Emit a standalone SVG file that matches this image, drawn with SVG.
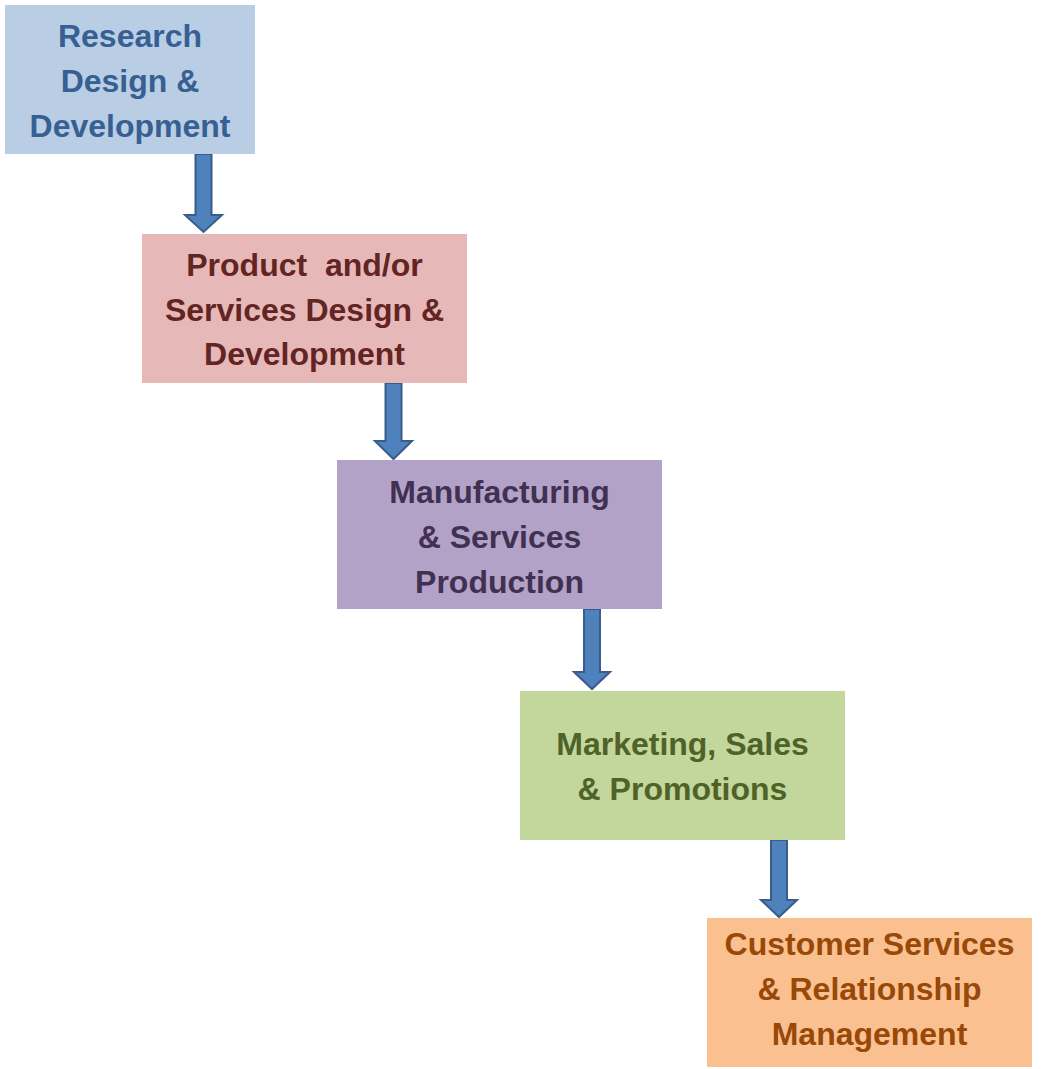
<svg xmlns="http://www.w3.org/2000/svg" width="1043" height="1069" viewBox="0 0 1043 1069">
<style>
text{font-family:"Liberation Sans",Arial,sans-serif;font-weight:bold;font-size:32px;text-anchor:middle;white-space:pre}
.arrow{fill:#4f81bd;stroke:#385d8a;stroke-width:2;stroke-linejoin:miter}
</style>
<rect width="1043" height="1069" fill="#ffffff"/>
<g id="connectors">
<path class="arrow" d="M195.5,154 H211.5 V215 H222 L203.5,232 L185,215 H195.5 Z"/>
<path class="arrow" d="M385.5,383 H401.5 V441 H412 L393.5,459 L375,441 H385.5 Z"/>
<path class="arrow" d="M584,609 H600 V672 H610 L592,689 L574,672 H584 Z"/>
<path class="arrow" d="M771,840 H787 V900 H797 L779,917 L761,900 H771 Z"/>
</g>
<g id="node-research">
<rect x="5" y="5" width="250" height="149" fill="#b9cde5"/>
<text fill="#376092"><tspan x="130" y="47">Research</tspan><tspan x="130" y="92">Design &amp;</tspan><tspan x="130" y="137">Development</tspan></text>
</g>
<g id="node-product">
<rect x="142" y="234" width="325" height="149" fill="#e6b9b8"/>
<text fill="#632523"><tspan x="304.5" y="276">Product  and/or</tspan><tspan x="304.5" y="321">Services Design &amp;</tspan><tspan x="304.5" y="365">Development</tspan></text>
</g>
<g id="node-manufacturing">
<rect x="337" y="460" width="325" height="149" fill="#b3a2c7"/>
<text fill="#403152"><tspan x="499.5" y="503">Manufacturing</tspan><tspan x="499.5" y="548">&amp; Services</tspan><tspan x="499.5" y="593">Production</tspan></text>
</g>
<g id="node-marketing">
<rect x="520" y="691" width="325" height="149" fill="#c3d69b"/>
<text fill="#4f6228"><tspan x="682.5" y="755">Marketing, Sales</tspan><tspan x="682.5" y="800">&amp; Promotions</tspan></text>
</g>
<g id="node-customer">
<rect x="707" y="918" width="325" height="149" fill="#fac090"/>
<text fill="#984807"><tspan x="869.5" y="955">Customer Services</tspan><tspan x="869.5" y="1000">&amp; Relationship</tspan><tspan x="869.5" y="1045">Management</tspan></text>
</g>
</svg>
